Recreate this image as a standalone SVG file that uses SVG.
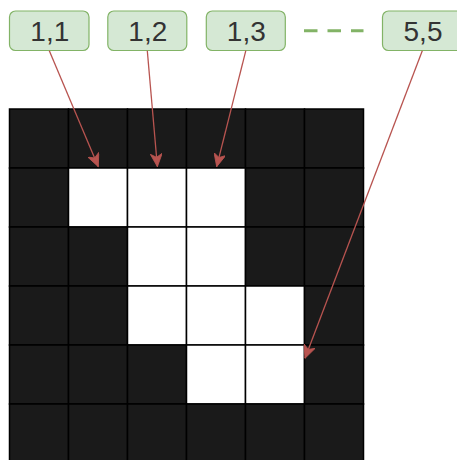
<svg xmlns="http://www.w3.org/2000/svg" width="457" height="460" viewBox="0 0 457 460">
<style>
.lbl{fill:#d5e8d4;stroke:#82b366;stroke-width:1.2}
.t{font-family:"Liberation Sans",Arial,sans-serif;font-size:28px;fill:#333333;text-anchor:middle;dominant-baseline:central}
.b{fill:#1a1a1a;stroke:#000000;stroke-width:1.5}
.w{fill:#ffffff;stroke:#000000;stroke-width:1.5}
.c{fill:none;stroke:#b85450;stroke-width:1.3}
</style>
<defs>
<marker id="ah" markerUnits="userSpaceOnUse" markerWidth="14" markerHeight="12" viewBox="0 0 14 12" refX="13" refY="6" orient="auto">
<path d="M0,0 L13,6 L0,12 L3.5,6 Z" fill="#b85450" stroke="#b85450" stroke-width="0.8"/>
</marker>
</defs>
<rect width="457" height="460" fill="#ffffff"/>
<g id="grid">
<rect class="b" x="9.5" y="109" width="59" height="59"/>
<rect class="b" x="68.5" y="109" width="59" height="59"/>
<rect class="b" x="127.5" y="109" width="59" height="59"/>
<rect class="b" x="186.5" y="109" width="59" height="59"/>
<rect class="b" x="245.5" y="109" width="59" height="59"/>
<rect class="b" x="304.5" y="109" width="59" height="59"/>
<rect class="b" x="9.5" y="168" width="59" height="59"/>
<rect class="w" x="68.5" y="168" width="59" height="59"/>
<rect class="w" x="127.5" y="168" width="59" height="59"/>
<rect class="w" x="186.5" y="168" width="59" height="59"/>
<rect class="b" x="245.5" y="168" width="59" height="59"/>
<rect class="b" x="304.5" y="168" width="59" height="59"/>
<rect class="b" x="9.5" y="227" width="59" height="59"/>
<rect class="b" x="68.5" y="227" width="59" height="59"/>
<rect class="w" x="127.5" y="227" width="59" height="59"/>
<rect class="w" x="186.5" y="227" width="59" height="59"/>
<rect class="b" x="245.5" y="227" width="59" height="59"/>
<rect class="b" x="304.5" y="227" width="59" height="59"/>
<rect class="b" x="9.5" y="286" width="59" height="59"/>
<rect class="b" x="68.5" y="286" width="59" height="59"/>
<rect class="w" x="127.5" y="286" width="59" height="59"/>
<rect class="w" x="186.5" y="286" width="59" height="59"/>
<rect class="w" x="245.5" y="286" width="59" height="59"/>
<rect class="b" x="304.5" y="286" width="59" height="59"/>
<rect class="b" x="9.5" y="345" width="59" height="59"/>
<rect class="b" x="68.5" y="345" width="59" height="59"/>
<rect class="b" x="127.5" y="345" width="59" height="59"/>
<rect class="w" x="186.5" y="345" width="59" height="59"/>
<rect class="w" x="245.5" y="345" width="59" height="59"/>
<rect class="b" x="304.5" y="345" width="59" height="59"/>
<rect class="b" x="9.5" y="404" width="59" height="59"/>
<rect class="b" x="68.5" y="404" width="59" height="59"/>
<rect class="b" x="127.5" y="404" width="59" height="59"/>
<rect class="b" x="186.5" y="404" width="59" height="59"/>
<rect class="b" x="245.5" y="404" width="59" height="59"/>
<rect class="b" x="304.5" y="404" width="59" height="59"/>
</g>
<g id="n11"><rect class="lbl" x="9.5" y="11" width="79.5" height="39.5" rx="6"/><text class="t" x="49.8" y="31">1,1</text></g>
<g id="n12"><rect class="lbl" x="107.8" y="11" width="79" height="39.5" rx="6"/><text class="t" x="147.8" y="31">1,2</text></g>
<g id="n13"><rect class="lbl" x="206.3" y="11" width="79" height="39.5" rx="6"/><text class="t" x="246.3" y="31">1,3</text></g>
<g id="n55"><rect class="lbl" x="382.5" y="11" width="80" height="39.5" rx="6"/><text class="t" x="423" y="31">5,5</text></g>
<g id="connectors">
<line x1="304" y1="30.7" x2="363.5" y2="30.7" stroke="#82b366" stroke-width="3" stroke-dasharray="13.5 10"/>
<line class="c" x1="49.3" y1="50.7" x2="98.3" y2="166.7" marker-end="url(#ah)"/>
<line class="c" x1="147.3" y1="50.7" x2="157.4" y2="166.7" marker-end="url(#ah)"/>
<line class="c" x1="245.8" y1="50.7" x2="216.7" y2="166.7" marker-end="url(#ah)"/>
<line class="c" x1="422.3" y1="50.7" x2="305" y2="358.3" marker-end="url(#ah)"/>
</g>
</svg>
